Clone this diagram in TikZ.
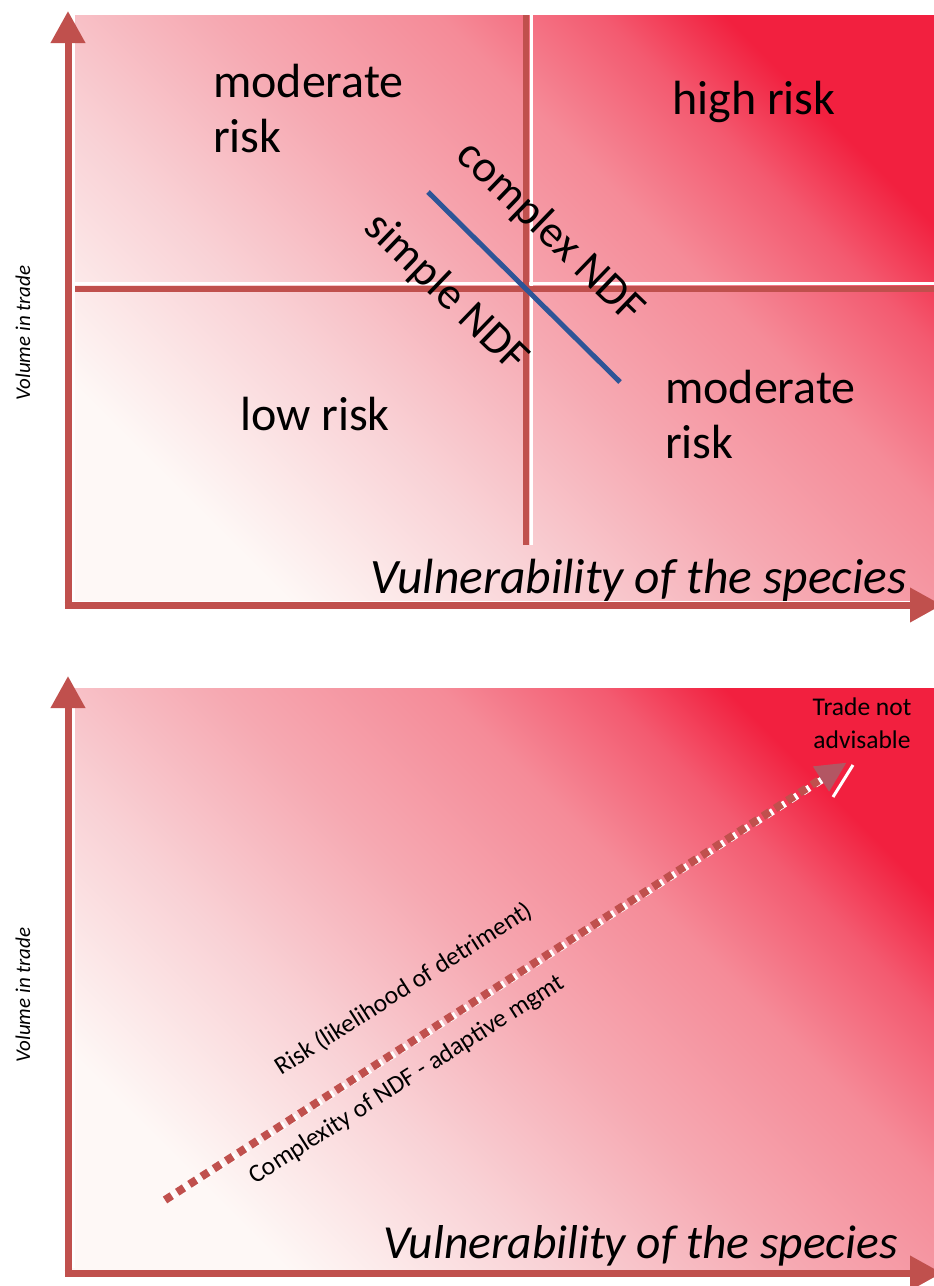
\documentclass[tikz,border=0pt]{standalone}
\usepackage{fontspec}
\setmainfont{Carlito}
\usetikzlibrary{arrows.meta,calc}
\definecolor{axisred}{HTML}{C0504D}
\definecolor{gred}{HTML}{F2203F}
\definecolor{gfour}{HTML}{F35A70}
\definecolor{gthree}{HTML}{F58B98}
\definecolor{gmid}{HTML}{F6A9B2}
\definecolor{gone}{HTML}{F9D2D6}
\definecolor{gwhite}{HTML}{FEF8F6}
\definecolor{ndfblue}{HTML}{2E5597}
\definecolor{tipcol}{HTML}{A8606A}
\pgfdeclareverticalshading{panelshade}{100bp}{color(0bp)=(gwhite); color(25bp)=(gwhite); color(38bp)=(gone); color(50bp)=(gmid); color(61bp)=(gthree); color(69bp)=(gfour); color(75bp)=(gred); color(100bp)=(gred)}
\begin{document}
\begin{tikzpicture}[x=1pt,y=-1pt,
  panel/.style={shading=panelshade, shading angle=-45},
  axisline/.style={draw=axisred, line width=7pt, -{Triangle[length=32pt,width=33pt]}},
  hilite/.style={draw=white, line width=2.5pt},
  divider/.style={draw=axisred, line width=6pt},
  big/.style={font=\fontsize{48}{55}\selectfont, inner sep=0pt, text=black},
  ndf/.style={font=\fontsize{45}{50}\selectfont, inner sep=0pt, text=black},
  vuln/.style={font=\fontsize{49.5}{55}\selectfont\itshape, inner sep=0pt, text=black},
  vol/.style={font=\fontsize{21}{24}\selectfont\itshape, inner sep=0pt, text=black},
  small/.style={font=\fontsize{25.5}{33}\selectfont, inner sep=0pt, text=black},
  dotsred/.style={draw=axisred, line width=8pt, dash pattern=on 8pt off 6.5pt},
  dotswhite/.style={draw=white, line width=7pt, dash pattern=on 8pt off 6.5pt},
]
\useasboundingbox (0,0) rectangle (934,1286);
\clip (0,0) rectangle (934,1286);
\fill[white] (0,0) rectangle (934,1286);

% ---------- top panel ----------
\shade[panel] (72,15) rectangle (940,600);
\coordinate (hl) at (72,289);
\coordinate (hr) at (940,289);
\coordinate (vt) at (526,15);
\coordinate (vb) at (526,545);
\draw[hilite] ([yshift=5.5]hl) -- ([yshift=5.5]hr);
\draw[hilite] ([xshift=5.5]vt) -- ([xshift=5.5]vb);
\draw[divider] (hl) -- (hr);
\draw[divider] (vt) -- (vb);

\coordinate (b1) at (428,192);
\coordinate (b2) at (620,382);
\draw[ndfblue, line width=5pt] (b1) -- (b2);

\coordinate (o1) at (68,605);
\coordinate (o1s) at (64.5,605);
\coordinate (y1) at (68,11);
\coordinate (x1) at (942,605);
\draw[hilite] (73.5,15) -- (73.5,600);
\draw[hilite] (72,610) -- (910,610);
\draw[axisline] (o1s) -- (x1);
\draw[axisline] ([yshift=3.5]o1) -- (y1);

\node[big, anchor=base west, align=left] (modTL) at (213,152) {moderate\\risk};
\node[big, anchor=base west] (high) at (672,114) {high risk};
\node[big, anchor=base west] (low) at (240,430) {low risk};
\node[big, anchor=base west, align=left] (modBR) at (665,458) {moderate\\risk};
\node[ndf, rotate=-44] (complex) at (550,233) {complex NDF};
\node[ndf, rotate=-44] (simple) at (446,293) {simple NDF};
\node[vuln, anchor=base east] (vul1) at (907,593) {Vulnerability of the species};
\node[vol, rotate=90] (vol1) at (23,333) {Volume in trade};

% ---------- bottom panel ----------
\shade[panel] (72,688) rectangle (940,1270);
\coordinate (o2) at (68,1273);
\coordinate (o2s) at (64.5,1273);
\coordinate (y2) at (68,676);
\coordinate (x2) at (942,1273);
\draw[hilite] (73.5,700) -- (73.5,1268);
\draw[hilite] (72,1278) -- (910,1278);
\draw[axisline] (o2s) -- (x2);
\draw[axisline] ([yshift=3.5]o2) -- (y2);

\coordinate (d1) at (165,1200);
\coordinate (d2) at (821,779);
\draw[dotswhite] ([shift={(3.2,-0.6)}]d1) -- ([shift={(3.2,-0.6)}]d2);
\draw[dotsred] (d1) -- (d2);
\coordinate (tipT) at ($(d2)!-30pt!(d1)$);
\coordinate (tipA) at ($(d2)!15pt!90:(d1)$);
\coordinate (tipB) at ($(d2)!15pt!-90:(d1)$);
\fill[tipcol, opacity=0.85] (tipT) -- (tipA) -- (tipB) -- cycle;
\coordinate (w1) at (833,797);
\coordinate (w2) at (853,765);
\draw[white, line width=3pt] (w1) -- (w2);

\node[small, align=center] (trade) at (862,723) {Trade not\\advisable};
\node[small, rotate=32.5] (risk) at (404,989) {Risk (likelihood of detriment)};
\node[small, rotate=32.5] (cplx) at (407,1080) {Complexity of NDF - adaptive mgmt};
\node[vuln, font=\fontsize{47.5}{55}\selectfont\itshape, anchor=base east] (vul2) at (898,1258) {Vulnerability of the species};
\node[vol, rotate=90] (vol2) at (23,995) {Volume in trade};
\end{tikzpicture}
\end{document}
